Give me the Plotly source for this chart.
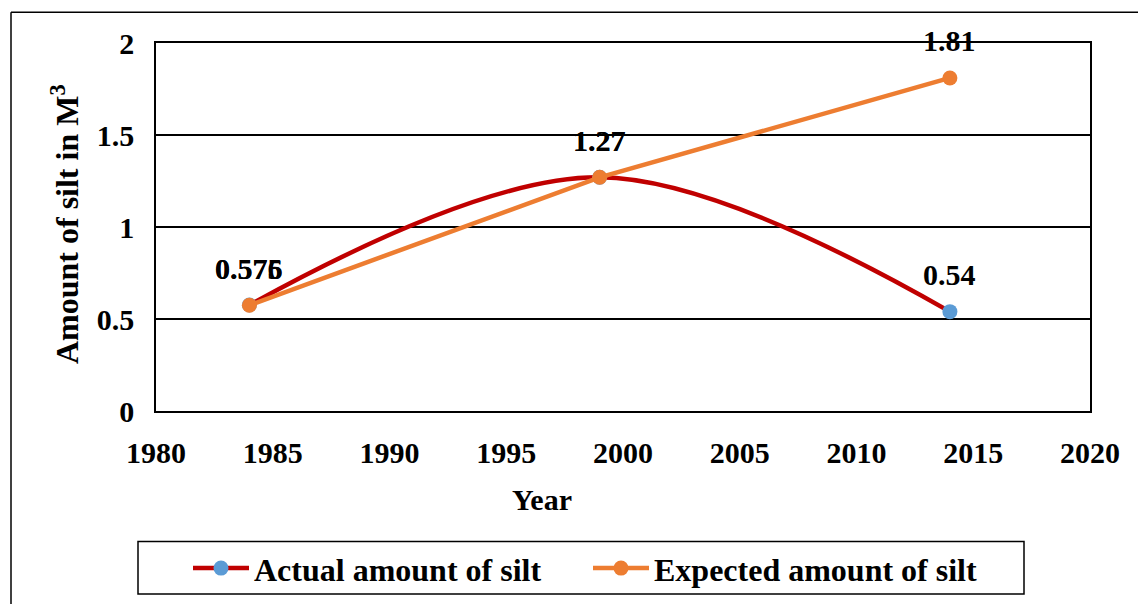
import plotly.graph_objects as go

# Survey years and silt volumes (cubic metres)
years = [1984, 1999, 2014]
actual_silt = [0.576, 1.27, 0.54]
expected_silt = [0.575, 1.27, 1.81]

x_ticks = [1980, 1985, 1990, 1995, 2000, 2005, 2010, 2015, 2020]
y_ticks = [0, 0.5, 1, 1.5, 2]

FONT = "Liberation Serif"
RED = "#C00000"
BLUE = "#5B9BD5"
ORANGE = "#ED7D31"

# plot-area pixel geometry used to place the titles, legend and frame
L, R, T, B = 156, 1090, 43, 415
W, H = R - L, B - T


def px_x(p):
    return (p - L) / W


def px_y(p):
    return (B - p) / H


fig = go.Figure()

fig.add_trace(go.Scatter(
    x=years, y=actual_silt, name="<b>Actual amount of silt</b>",
    mode="lines+markers", legend="legend",
    line=dict(color=RED, width=4.5, shape="spline", smoothing=1.0),
    marker=dict(color=BLUE, size=15),
))
fig.add_trace(go.Scatter(
    x=years, y=expected_silt, name="<b>Expected amount of silt</b>",
    mode="lines+markers", legend="legend2",
    line=dict(color=ORANGE, width=4.5),
    marker=dict(color=ORANGE, size=15),
))

# value labels above each point
annotations = []
for xs, ys in ((years, actual_silt), (years, expected_silt)):
    for xv, yv in zip(xs, ys):
        annotations.append(dict(
            x=xv, y=yv, xref="x", yref="y", text=f"<b>{yv:g}</b>",
            showarrow=False, yshift=37, xanchor="center", yanchor="middle",
            font=dict(family=FONT, size=30, color="black"),
        ))

# axis titles
annotations.append(dict(
    x=px_x(542), y=px_y(504), xref="paper", yref="paper",
    xanchor="center", yanchor="middle",
    text="<b>Year</b>", showarrow=False,
    font=dict(family=FONT, size=30, color="black"),
))
annotations.append(dict(
    x=px_x(65), y=px_y(226), xref="paper", yref="paper",
    xanchor="center", yanchor="middle",
    text="<b>Amount of silt in M<sup>3</sup></b>", showarrow=False, textangle=-90,
    font=dict(family=FONT, size=32, color="black"),
))

legend_common = dict(
    orientation="h", yanchor="middle", xanchor="left",
    bgcolor="rgba(0,0,0,0)", borderwidth=0, itemwidth=56,
    font=dict(family=FONT, size=32, color="black"),
)

fig.update_layout(
    width=1138, height=608,
    margin=dict(l=L, r=1138 - R, t=T, b=608 - B),
    paper_bgcolor="white", plot_bgcolor="white",
    font=dict(family=FONT, size=30, color="black"),
    showlegend=True,
    legend=dict(x=px_x(188), y=px_y(574), **legend_common),
    legend2=dict(x=px_x(588), y=px_y(574), **legend_common),
    annotations=annotations,
    shapes=[
        # chart frame
        dict(type="line", xref="paper", yref="paper",
             x0=px_x(11), x1=px_x(1140), y0=px_y(12), y1=px_y(12),
             line=dict(color="black", width=1.5)),
        dict(type="line", xref="paper", yref="paper",
             x0=px_x(11), x1=px_x(11), y0=px_y(12), y1=px_y(610),
             line=dict(color="black", width=1.5)),
        # legend box
        dict(type="rect", xref="paper", yref="paper",
             x0=px_x(138), x1=px_x(1024), y0=px_y(547), y1=px_y(600),
             line=dict(color="black", width=1.5), fillcolor="rgba(0,0,0,0)"),
    ],
)

fig.update_xaxes(
    range=[1980, 2020], tickvals=x_ticks, ticktext=[f"<b>{v}</b>" for v in x_ticks],
    showgrid=False, zeroline=False,
    showline=True, linecolor="black", linewidth=1.5, mirror=True,
    ticks="outside", ticklen=14, tickcolor="rgba(0,0,0,0)",
    tickfont=dict(family=FONT, size=30, color="black"),
)
fig.update_yaxes(
    range=[0, 2], tickvals=y_ticks, ticktext=[f"<b>{v:g}</b>" for v in y_ticks],
    showgrid=True, gridcolor="black", gridwidth=1.5, zeroline=False,
    showline=True, linecolor="black", linewidth=1.5, mirror=True,
    ticks="outside", ticklen=14, tickcolor="rgba(0,0,0,0)",
    tickfont=dict(family=FONT, size=30, color="black"),
)

fig.write_html("out.html")
